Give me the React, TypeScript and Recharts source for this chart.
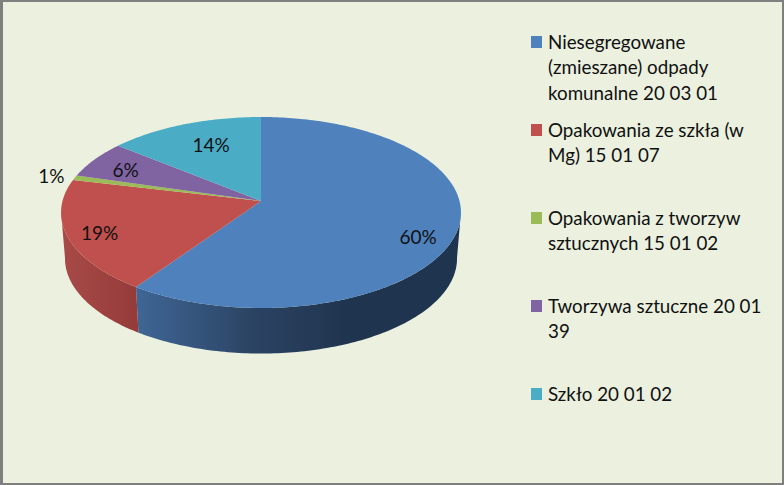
import { Legend, Pie, PieChart } from 'recharts'

const names = [
  'Niesegregowane\n(zmieszane) odpady\nkomunalne 20 03 01',
  'Opakowania ze szkła (w\nMg) 15 01 07',
  'Opakowania z tworzyw\nsztucznych 15 01 02',
  'Tworzywa sztuczne 20 01\n39',
  'Szkło 20 01 02',
]
const shares = [59.6, 19.1, 0.8, 6.4, 14.1]
const colors = ['#4f81bd', '#c0504d', '#9bbb59', '#8064a2', '#4bacc6']

const rows = names.map((name, i) => ({ name, value: shares[i], fill: colors[i], side: `url(#side${i})` }))

// perspective of the tilted disc, worked out from the reference outline
const TILT = 0.1204
const TOP = { ax: 198.5, by: 94.1, dy: 0 }
const BOTTOM = { ax: 194.6, by: 93.7, dy: 46 }
const RAD = Math.PI / 180
// the wall only shows between these angles (pie runs 90 down to -270)
const WALL_FROM = -6.6
const WALL_TO = -173.4

// label spots: radius on the disc, then a small nudge in pixels
const labelRadius = [0.8, 0.85, 1.13, 0.75, 0.68]
const labelNudge = [[1, 12], [2, 2], [0, 1], [-9, 0], [4, -3]]

const font = 'Lato, "Open Sans", sans-serif'

function project(cx: number, cy: number, deg: number, r: number, plane = TOP) {
  const x = r * Math.cos(deg * RAD)
  const y = r * Math.sin(deg * RAD)
  const w = 1 + TILT * y
  return [cx + (plane.ax * x) / w, cy + plane.dy - (plane.by * y) / w]
}

function arcPoints(cx: number, cy: number, from: number, to: number, plane = TOP) {
  const steps = Math.max(2, Math.ceil(Math.abs(to - from)))
  const pts: number[][] = []
  for (let i = 0; i <= steps; i++) pts.push(project(cx, cy, from + ((to - from) * i) / steps, 1, plane))
  return pts
}

const toPath = (pts: number[][]) => pts.map((p, i) => `${i ? 'L' : 'M'}${p[0].toFixed(2)} ${p[1].toFixed(2)}`).join(' ') + ' Z'

function TopSlice(props: any) {
  const { cx, cy, startAngle, endAngle, fill } = props
  return <path d={toPath([[cx, cy], ...arcPoints(cx, cy, startAngle, endAngle)])} fill={fill} />
}

function SideSlice(props: any) {
  const { cx, cy, startAngle, endAngle, payload } = props
  const from = Math.min(startAngle, WALL_FROM)
  const to = Math.max(endAngle, WALL_TO)
  if (from <= to) return <g />
  const upper = arcPoints(cx, cy, from, to)
  const lower = arcPoints(cx, cy, from, to, BOTTOM).reverse()
  return <path d={toPath([...upper, ...lower])} fill={payload.side} />
}

function renderLabel(props: any) {
  const { cx, cy, midAngle, index, value } = props
  const [x, y] = project(cx, cy, midAngle, labelRadius[index])
  return (
    <text
      key={index}
      x={x + labelNudge[index][0]}
      y={y + labelNudge[index][1]}
      textAnchor="middle"
      dominantBaseline="central"
      fill="#111"
      fontSize={19}
      fontFamily={font}
    >
      {Math.round(value)}%
    </text>
  )
}

function renderLegend({ payload }: any) {
  const seen = new Set<string>()
  const items = (payload ?? []).filter((entry: any) => {
    if (seen.has(entry.value)) return false
    seen.add(entry.value)
    return true
  })
  return (
    <div style={{ fontFamily: font, fontSize: 18.8, lineHeight: '25.3px', color: '#111' }}>
      {items.map((entry: any) => (
        <div key={entry.value} style={{ height: 88, position: 'relative', paddingLeft: 17, whiteSpace: 'pre-line' }}>
          <span style={{ position: 'absolute', left: 0, top: 7, width: 11, height: 12, background: entry.color }} />
          {entry.value}
        </div>
      ))}
    </div>
  )
}

export default function App() {
  return (
    <div
      style={{
        position: 'absolute',
        left: 0,
        top: 0,
        width: 784,
        height: 485,
        boxSizing: 'border-box',
        background: '#ebf0df',
        borderStyle: 'solid',
        borderColor: '#7f7f7f',
        borderWidth: '2px 2px 2px 3px',
      }}
    >
      <div style={{ position: 'absolute', left: -3, top: -2 }}>
        <PieChart width={784} height={485} margin={{ top: 0, right: 0, bottom: 0, left: 0 }}>
          <defs>
            <linearGradient id="side0" gradientUnits="userSpaceOnUse" x1="136" y1="0" x2="350" y2="0">
              <stop offset="0" stopColor="#3f6696" />
              <stop offset="0.55" stopColor="#2b4363" />
              <stop offset="1" stopColor="#1f344e" />
            </linearGradient>
            <linearGradient id="side1" gradientUnits="userSpaceOnUse" x1="61" y1="0" x2="137" y2="0">
              <stop offset="0" stopColor="#a84b48" />
              <stop offset="1" stopColor="#953b39" />
            </linearGradient>
          </defs>
          <Pie
            data={rows}
            dataKey="value"
            nameKey="name"
            cx={261}
            cy={201}
            outerRadius={100}
            startAngle={90}
            endAngle={-270}
            stroke="none"
            legendType="none"
            shape={SideSlice}
            isAnimationActive={false}
          />
          <Pie
            data={rows}
            dataKey="value"
            nameKey="name"
            cx={261}
            cy={201}
            outerRadius={100}
            startAngle={90}
            endAngle={-270}
            stroke="none"
            shape={TopSlice}
            label={renderLabel}
            labelLine={false}
            isAnimationActive={false}
          />
          <Legend
            layout="vertical"
            align="right"
            verticalAlign="top"
            itemSorter={null}
            content={renderLegend}
            wrapperStyle={{ left: 531, top: 29, width: 245 }}
          />
        </PieChart>
      </div>
    </div>
  )
}
